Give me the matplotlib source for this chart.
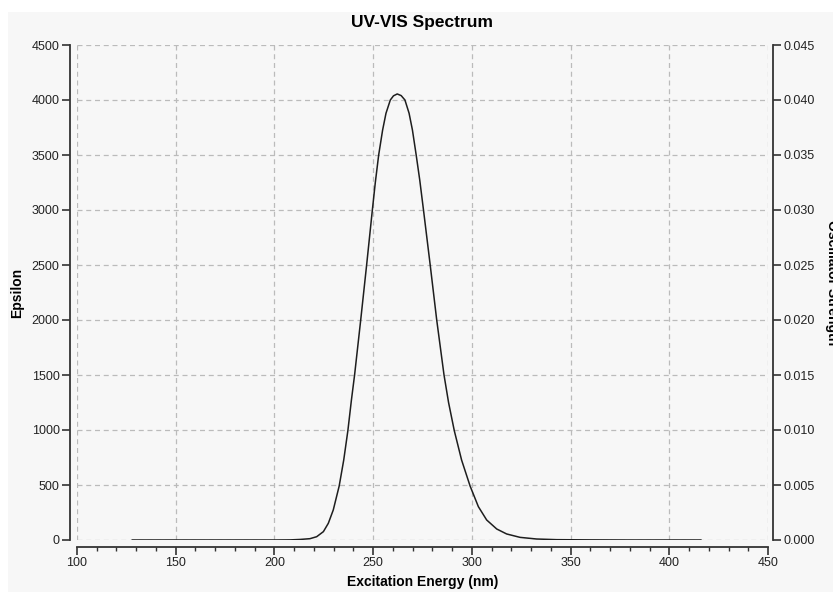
import numpy as np
import matplotlib as mpl
import matplotlib.pyplot as plt
from matplotlib.patches import Rectangle
from matplotlib.ticker import MultipleLocator, FormatStrFormatter

# spectrum (nm, epsilon)
wavelength = [128, 180, 200, 208, 213, 218, 221.4, 224.8, 227.3, 229.8, 232.8, 235.1, 237.2,
              239.0, 240.6, 243.7, 246.7, 249.6, 251.1, 252.8, 254.8, 256.5, 258.7, 260.3,
              262.2, 264.2, 266.1, 268.2, 269.9, 271.8, 273.6, 275.5, 278.9, 282.2, 285.9,
              288.2, 291.1, 294.8, 299.1, 303.3, 307.5, 312.6, 317.6, 324.4, 332.8, 343,
              360, 380, 416]
epsilon = [0, 0, 0, 1, 5, 12, 30, 76, 152, 273, 491, 727, 994,
           1273, 1500, 2000, 2500, 3000, 3250, 3500, 3727, 3879, 4000, 4038,
           4055, 4040, 4000, 3880, 3727, 3500, 3273, 3000, 2500, 2000, 1500,
           1250, 994, 727, 491, 303, 182, 100, 55, 24, 9, 3,
           1, 0, 0]

x_ticks = [100, 150, 200, 250, 300, 350, 400, 450]
eps_ticks = [0, 500, 1000, 1500, 2000, 2500, 3000, 3500, 4000, 4500]
osc_ticks = [0.000, 0.005, 0.010, 0.015, 0.020, 0.025, 0.030, 0.035, 0.040, 0.045]

plt.rcParams['font.family'] = ['Liberation Sans', 'DejaVu Sans']
fig = plt.figure(figsize=(8.33, 5.92), dpi=100)
fig.patch.set_facecolor('white')
fig.patches.append(Rectangle((8/833, 0), 1, 1 - 12/592, transform=fig.transFigure,
                             facecolor='#f7f7f7', edgecolor='none', zorder=-10))

ax = fig.add_axes([77/833, 52/592, 691/833, 495/592])
ax.set_facecolor('none')
ax.plot(wavelength, epsilon, color='#1e1e1e', lw=1.1)
ax.set_xlim(100, 450)
ax.set_ylim(0, 4500)
ax.set_xticks(x_ticks)
ax.set_yticks(eps_ticks)
ax.xaxis.set_minor_locator(MultipleLocator(10))
ax.grid(True, which='major', color='#bbbbbb', linestyle=(0, (4, 3)), lw=0.9)

for s in ['top', 'right']:
    ax.spines[s].set_visible(False)
ax.spines['left'].set_position(('outward', 5))
ax.spines['bottom'].set_position(('outward', 5))
for s in ['left', 'bottom']:
    ax.spines[s].set_linewidth(1.3)
    ax.spines[s].set_color('#333333')

ax.tick_params(axis='both', which='major', length=5.5, width=1.2, color='#333333',
               labelsize=9, labelcolor='#222222', pad=2)
ax.tick_params(axis='x', which='minor', length=3, width=1.0, color='#333333')

ax2 = ax.twinx()
ax2.set_ylim(0, 0.045)
ax2.set_yticks(osc_ticks)
ax2.yaxis.set_major_formatter(FormatStrFormatter('%.3f'))
for s in ['top', 'left', 'bottom']:
    ax2.spines[s].set_visible(False)
ax2.spines['right'].set_position(('outward', 3.6))
ax2.spines['right'].set_linewidth(1.3)
ax2.spines['right'].set_color('#333333')
ax2.tick_params(axis='y', length=5.5, width=1.2, color='#333333',
                labelsize=9, labelcolor='#222222', pad=2)

fig.text(422/833, 1 - 22/592, 'UV-VIS Spectrum', ha='center', va='center',
         fontsize=12.5, fontweight='bold')
fig.text(423/833, 1 - 582/592, 'Excitation Energy (nm)', ha='center', va='center',
         fontsize=10, fontweight='bold')
fig.text(17/833, 1 - 293/592, 'Epsilon', ha='center', va='center', rotation=90,
         fontsize=10, fontweight='bold')
fig.text(832/833, 1 - 283/592, 'Oscillator Strength', ha='center', va='center',
         rotation=270, fontsize=10, fontweight='bold')

plt.savefig('out.png', dpi=100)
